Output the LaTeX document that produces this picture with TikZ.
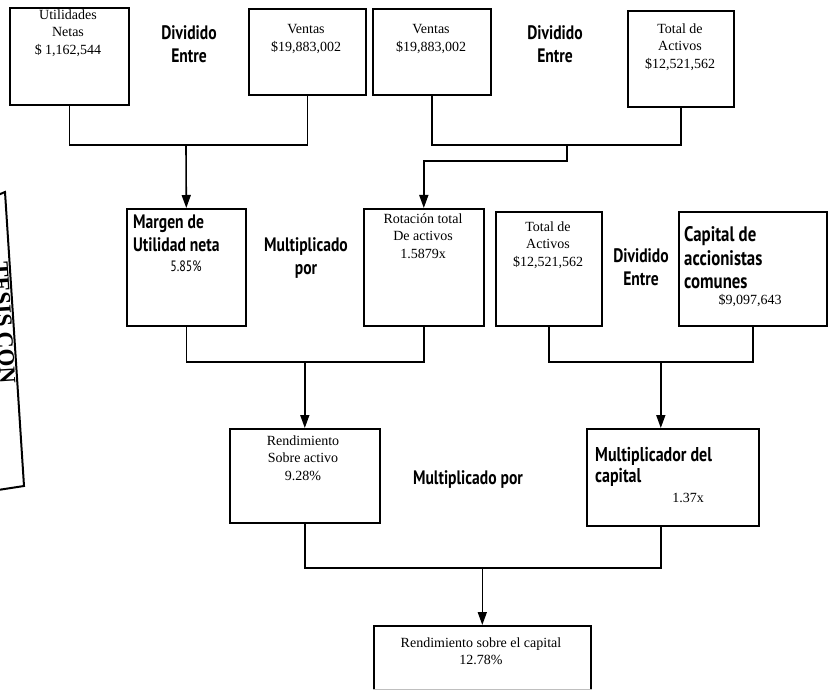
\documentclass[tikz,border=0pt]{standalone}
\usepackage{fontspec}
\setmainfont{Liberation Serif}
\newfontfamily\cond[FakeStretch=0.8]{PT Sans}
\usetikzlibrary{arrows.meta}

\begin{document}
\begin{tikzpicture}[x=1pt,y=-1pt,
  box/.style={draw, line width=1.6pt, inner sep=0pt, anchor=north west},
  link/.style={line width=1.6pt},
  arr/.style={link, -{Triangle[width=9pt,length=13pt]}},
  ser/.style={font=\fontsize{14}{17.5}\selectfont, align=center, inner sep=0pt},
  san/.style={font=\cond\bfseries\fontsize{19.5}{23}\selectfont, align=center, inner sep=0pt},
  big/.style={font=\cond\bfseries\fontsize{21}{23.5}\selectfont, align=left, inner sep=0pt, anchor=west},
  stamp/.style={font=\bfseries\fontsize{23}{26}\selectfont, inner sep=0pt},
]
\useasboundingbox (0,0) rectangle (828,690);
\clip (0,0) rectangle (828,690);

% ---- stamp at the left margin
\draw[line width=2pt] (-2,195) -- (5,192) -- (24,486) -- (-2,490);
\node[stamp, rotate=-86.3, anchor=north] (stampText) at (12,322) {TESIS CON};

% ---- top row
\node[box, minimum width=119pt, minimum height=97pt] (b1) at (9,7) {};
\node[box, minimum width=117pt, minimum height=86pt] (b2) at (248,8) {};
\node[box, minimum width=118pt, minimum height=86pt] (b3) at (372,8) {};
\node[box, minimum width=106pt, minimum height=96pt] (b4) at (627,10) {};

\node[ser] (t1) at (68,33) {Utilidades\\Netas\\\$ 1,162,544};
\node[san] (d1) at (189,44) {Dividido\\Entre};
\node[ser] (t2) at (306,39) {Ventas\\\$19,883,002};
\node[ser] (t3) at (431,39) {Ventas\\\$19,883,002};
\node[san] (d2) at (555,44) {Dividido\\Entre};
\node[ser] (t4) at (680,47) {Total de\\Activos\\\$12,521,562};

% ---- middle row
\node[box, minimum width=119pt, minimum height=117pt] (m1) at (126,208) {};
\node[box, minimum width=120pt, minimum height=117pt] (m2) at (363,208) {};
\node[box, minimum width=106pt, minimum height=114pt] (m3) at (495,211) {};
\node[box, minimum width=148pt, minimum height=114pt] (m4) at (678,211) {};

\node[san, align=left, anchor=west] (t5) at (133,233) {Margen de\\Utilidad neta};
\node[san, font=\cond\fontsize{15}{16}\selectfont] (t5b) at (186,266) {5.85\%};
\node[san] (d3) at (306,258) {Multiplicado\\por};
\node[ser] (t6) at (423,236) {Rotación total\\De activos\\1.5879x};
\node[ser] (t7) at (548,245) {Total de\\Activos\\\$12,521,562};
\node[san] (d4) at (641,267) {Dividido\\Entre};
\node[big] (t8) at (684,258) {Capital de\\accionistas\\comunes};
\node[ser] (t8b) at (750,301) {\$9,097,643};

% ---- bottom row
\node[box, minimum width=150pt, minimum height=94pt] (r1) at (229,428) {};
\node[box, minimum width=172pt, minimum height=97pt] (r2) at (586,428) {};

\node[ser] (t9) at (303,458) {Rendimiento\\Sobre activo\\9.28\%};
\node[san] (d5) at (468,480) {Multiplicado por};
\node[big, font=\cond\bfseries\fontsize{20}{21.5}\selectfont] (t10) at (595,467) {Multiplicador del\\capital};
\node[ser] (t10b) at (688,498) {1.37x};

% ---- result
\node[box, minimum width=217pt, minimum height=75pt] (f) at (373,625) {};
\node[ser] (t11) at (481,651) {Rendimiento sobre el capital\\12.78\%};
\draw[gray!50, line width=1.2pt] ([yshift=12pt]f.south west) -- ([yshift=12pt]f.south east);

% ---- connectors
\coordinate (j1) at (186,145);
\draw[link] (b1.south) |- (b2.south |- j1) -- (b2.south);
\draw[arr] (j1) -- (m1.north);

\coordinate (j2) at (567,145);
\coordinate (j2b) at (567,161);
\draw[link] (b3.south) |- (b4.south |- j2) -- (b4.south);
\draw[arr] (j2) -- (j2b) -| (m2.north);

\coordinate (j3) at (304,362);
\draw[link] (m1.south) |- (m2.south |- j3) -- (m2.south);
\draw[arr] (r1.north |- j3) -- (r1.north);

\coordinate (j4) at ([xshift=-12pt]r2.north |- j3);
\draw[link] (m3.south) |- (m4.south |- j4) -- (m4.south);
\draw[arr] (j4) -- ([xshift=-12pt]r2.north);

\coordinate (j5) at (f.north |- 0,568);
\draw[link] (r1.south) |- ([xshift=-12pt]r2.south |- j5) -- ([xshift=-12pt]r2.south);
\draw[arr] (j5) -- (f.north);
\end{tikzpicture}
\end{document}
